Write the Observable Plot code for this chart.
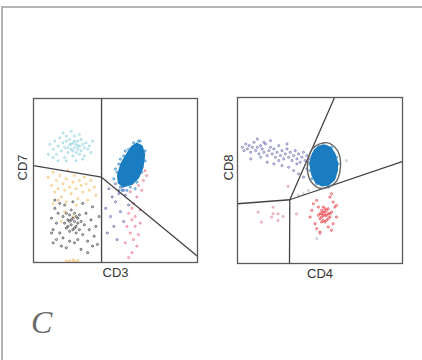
<!DOCTYPE html>
<html><head><meta charset="utf-8">
<script src="https://cdn.jsdelivr.net/npm/d3@7"></script>
<script src="https://cdn.jsdelivr.net/npm/@observablehq/plot@0.6"></script>
<style>
body{margin:0;width:422px;height:360px;overflow:hidden;background:#fff;position:relative;font-family:"Liberation Sans",Arial,sans-serif}
#border{position:absolute;left:1px;top:6px;width:440px;height:400px;border-top:2px solid #b4b4b4;border-left:2px solid #b4b4b4}
#left{position:absolute;left:0;top:80px}
#right{position:absolute;left:205px;top:80px}
#panel{position:absolute;left:31px;top:306px;font:italic 32px/32px "Liberation Serif",serif;color:#6a6a6a}
</style></head>
<body>
<div id="border"></div>
<div id="left"></div>
<div id="right"></div>
<div id="panel">C</div>
<script>
// ---- Left panel: CD3 (x) vs CD7 (y), arbitrary units 0-100 ----
const xLabelL = "CD3", yLabelL = "CD7";
const cyanL = [[10,72],[12,69],[13,74],[14,66],[15,71],[16,76],[17,68],[18,73],[19,64],[19,70],[20,77],[21,67],[22,72],[22,75],[23,69],[24,65],[24,73],[25,70],[25,77],[26,67],[26,72],[27,74],[27,69],[28,71],[28,66],[29,75],[29,68],[30,72],[31,70],[31,65],[32,73],[33,69],[34,71],[35,67],[12,64],[15,62],[20,62],[26,62],[30,63],[18,79],[23,80],[28,78],[9,66],[36,74],[21,70],[24,68],[27,71],[25,74],[23,72],[20,74]];
const orangeL = [[9,52],[11,47],[12,55],[13,43],[14,50],[15,45],[16,53],[17,40],[18,48],[19,44],[20,51],[21,56],[22,46],[23,42],[24,49],[25,53],[26,45],[27,39],[28,50],[29,47],[30,43],[31,52],[32,48],[34,44],[35,50],[37,46],[38,41],[15,38],[20,37],[26,35],[12,36],[33,38],[19,31],[24,28],[17,25],[22,1],[25,0.8],[27,1.2],[20,1],[24,1.5]];
const blackL = [[18,28],[19,24],[20,30],[20,21],[21,26],[22,19],[22,29],[23,23],[23,32],[24,27],[24,20],[25,25],[25,30],[26,22],[26,18],[27,27],[27,24],[28,20],[28,29],[29,25],[21,22],[23,26],[25,21],[22,25],[26,28],[11,27],[12,20],[13,33],[14,14],[14,24],[15,30],[16,18],[16,36],[17,10],[18,15],[30,17],[31,23],[32,30],[33,13],[34,20],[35,26],[36,34],[37,16],[38,22],[39,11],[40,28],[12,12],[20,9],[25,12],[29,8],[33,6],[13,38],[30,36],[24,37],[19,35],[36,10],[11,18],[27,14],[22,13]];
const navyL = [[46,45],[48,40],[44,33],[50,37],[52,42],[47,28],[49,22],[53,31],[45,18],[51,14],[55,25],[58,35],[54,46],[56,41],[50,48],[55,44],[52,44]];
const redL = [[57,50],[60,48],[62,52],[64,47],[66,44],[59,43],[63,40],[61,36],[65,32],[58,30],[60,26],[62,22],[59,18],[61,14],[63,10],[60,6],[58,3],[64,17],[56,12],[62,28],[67,50],[68,56],[66,60],[69,53],[64,55],[57,22],[65,24],[60,33]];
const blobL = [[63,72.5],[66,71],[67.5,66],[66.5,58],[64,52],[60,48],[55,46.5],[52,48.5],[51.5,53],[53.5,60],[57,66],[60,70.5]];
const blobDotsL = [[50,57],[53,63],[56,68],[49,51],[65,74],[68,62],[62,45],[57,44],[54,44],[68,68],[61,73],[51,55],[52,60],[55,65],[58,69],[64,74],[67,64],[66,55],[63,49],[59,46],[53,46]];
const gateVL = [[41.5,0],[41.5,100]];
const gateDL = [[0,59.1],[41.5,52],[100,3.8]];

// ---- Right panel: CD4 (x) vs CD8 (y), arbitrary units 0-100 ----
const xLabelR = "CD4", yLabelR = "CD8";
const purpleR = [[3,70],[4,68],[5,72],[6,69],[7,71],[8,67],[9,70],[10,73],[11,68],[12,70],[13,66],[14,71],[15,69],[16,67],[17,72],[18,65],[19,68],[20,70],[21,66],[22,69],[23,64],[24,67],[25,71],[26,65],[27,68],[28,63],[29,66],[30,69],[31,64],[32,67],[33,62],[34,65],[35,68],[36,63],[37,66],[38,61],[39,64],[40,67],[41,62],[42,65],[43,60],[44,63],[14,64],[18,61],[22,60],[27,59],[31,58],[34,56],[37,54],[40,52],[25,62],[20,74],[12,75],[30,72],[8,63],[16,73],[36,60],[42,57]];
const blobR = [[53.5,71],[56.5,69.5],[58.8,66],[60.3,61],[60.3,56],[58.5,50.5],[55,47.5],[51,47],[47.5,49],[45.3,53.5],[44.2,59.5],[45,64.5],[47,68.5],[50,70.7]];
const blobDotsR = [[44,56],[46,66],[52,72],[59,52],[61,60],[48,48],[57,70],[44,61],[45,51],[55,46],[60,64],[49,70]];
const redR = [[50,30],[51,28],[52,31],[53,29],[54,32],[55,27],[52,26],[53,33],[51,32],[54,29],[56,30],[50,27],[55,33],[53,25],[52,29],[51,30],[54,26],[57,31],[49,29],[56,28],[53,31],[52,34],[55,30],[51,25],[46,36],[48,38],[56,40],[58,37],[59,34],[47,24],[48,21],[50,19],[55,22],[58,24],[60,35],[44,28],[57,42],[49,34],[57,20],[45,32],[60,28]];
const pinkR = [[21.6,33.9],[12.5,30.9],[21.6,29.9],[24.6,29.9],[27.7,28.3],[20.6,27.9],[24.6,25.9],[35.8,29.9],[14.5,24.9],[30.7,46.4],[50,18]];
const grayR = [[37,41],[40,42],[43,44],[66,62],[48,15]];
const ellipseR = [[53.9,72.8],[60.6,68],[62.4,58.4],[59.4,48.8],[50.9,45.2],[44.2,50],[42.4,59.6],[45.5,69.2]];
const gateTopR = [[58.8,100],[31.7,38.4]];
const gateLeftR = [[0,36],[31.7,38.4]];
const gateRightR = [[31.7,38.4],[99.8,61.4]];
const gateBottomR = [[31.7,38.4],[31.5,0]];

const X = d => d[0], Y = d => d[1];
const dots = (data, color, op = 0.7) => Plot.dot(data, {x: X, y: Y, r: 1.1, stroke: color, strokeWidth: 0.8, strokeOpacity: op, fill: color, fillOpacity: 0.25});
const gate = data => Plot.line(data, {x: X, y: Y, stroke: "#444", strokeWidth: 1.3});
const labels = (xl, yl, ydx) => [
  Plot.text([xl], {frameAnchor: "bottom", lineAnchor: "top", dy: 5, fontSize: 13, fill: "#333", fontFamily: "Liberation Sans"}),
  Plot.text([yl], {frameAnchor: "left", rotate: -90, dx: ydx, fontSize: 13, fill: "#333", fontFamily: "Liberation Sans"})
];
const common = {x: {domain: [0, 100], axis: null}, y: {domain: [0, 100], axis: null}, style: {background: "transparent", overflow: "visible"}};

const left = Plot.plot({
  ...common, width: 205, height: 210, marginLeft: 33, marginRight: 8, marginTop: 18, marginBottom: 28,
  marks: [
    dots(cyanL, "#7cc8d6", 0.65),
    dots(orangeL, "#f2b24c", 0.65),
    dots(blackL, "#2b2b2b", 0.7),
    dots(navyL, "#3a3f96", 0.65),
    dots(redL, "#e0405a", 0.55),
    Plot.hull(blobL, {x: X, y: Y, fill: "#1a7cc1", stroke: "#1a7cc1", strokeWidth: 2, strokeLinejoin: "round"}),
    dots(blobDotsL, "#1a7cc1", 0.85),
    gate(gateVL), gate(gateDL),
    Plot.frame({stroke: "#5a5a5a", strokeWidth: 1.3}),
    ...labels(xLabelL, yLabelL, -11)
  ]
});
document.getElementById("left").appendChild(left);

const right = Plot.plot({
  ...common, width: 210, height: 210, marginLeft: 32, marginRight: 13, marginTop: 17, marginBottom: 27,
  marks: [
    dots(purpleR, "#5a5aa8", 0.7),
    dots(pinkR, "#d9707f", 0.65),
    dots(grayR, "#9aa0b0", 0.55),
    dots(redR, "#e42a30", 0.75),
    Plot.hull(blobR, {x: X, y: Y, fill: "#1a7cc1", stroke: "#1a7cc1", strokeWidth: 2, strokeLinejoin: "round"}),
    dots(blobDotsR, "#1a7cc1", 0.85),
    gate(gateTopR), gate(gateLeftR), gate(gateRightR), gate(gateBottomR),
    Plot.line(ellipseR, {x: X, y: Y, curve: "catmull-rom-closed", stroke: "#666", strokeWidth: 1.4}),
    Plot.frame({stroke: "#5a5a5a", strokeWidth: 1.3}),
    ...labels(xLabelR, yLabelR, -9)
  ]
});
document.getElementById("right").appendChild(right);
</script>
</body></html>
